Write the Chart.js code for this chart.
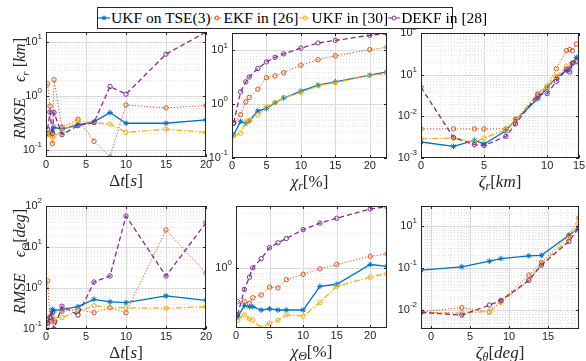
<!DOCTYPE html>
<html>
<head>
<meta charset="utf-8">
<script src="https://cdn.jsdelivr.net/npm/chart.js@4.4.0/dist/chart.umd.min.js"></script>
<style>
  body { margin: 0; width: 586px; height: 361px; overflow: hidden; position: relative; background: #fff; }
  canvas { position: absolute; }
  #legend { position: absolute; left: 97px; top: 7px; width: 356px; height: 22px; border: 1px solid #262626;
            background: #fff; z-index: 5; font-family: 'Liberation Serif', serif; font-size: 15.5px; color: #000;
            display: flex; align-items: center; justify-content: space-between; white-space: nowrap;
            padding: 0 2px 0 0; box-sizing: border-box; }
  .item { display: flex; align-items: center; }
  .item svg { margin-right: 1px; }
</style>
</head>
<body>
<div id="legend"></div>
<canvas id="c1"></canvas>
<canvas id="c2"></canvas>
<canvas id="c3"></canvas>
<canvas id="c4"></canvas>
<canvas id="c5"></canvas>
<canvas id="c6"></canvas>
<script>
const seriesNames = ['UKF on TSE(3)', 'EKF in [26]', 'UKF in [30]', 'DEKF in [28]'];

// time step sweep (both rows)
const dtSteps = [0.2, 0.5, 0.8, 1, 2, 4, 6, 8, 10, 15, 20];
const posDtUkfTse = [0.2, 0.19, 0.22, 0.26, 0.24, 0.29, 0.33, 0.49, 0.31, 0.31, 0.36];
const posDtEkf    = [1.68, 0.65, 0.13, 2.0, 0.26, 0.37, 0.143, 0.073, 0.68, 0.6, 0.66];
const posDtUkf    = [0.19, 0.2, 0.17, 0.18, 0.22, 0.34, 0.32, 0.3, 0.21, 0.24, 0.21];
const posDtDekf   = [0.24, 0.5, 0.2, 0.49, 0.19, 0.28, 0.32, 1.5, 1.08, 6.0, 15.5];

const attDtUkfTse = [0.14, 0.2, 0.3, 0.28, 0.3, 0.35, 0.53, 0.46, 0.44, 0.64, 0.5];
const attDtEkf    = [1.5, 0.18, 0.16, 0.15, 0.27, 0.3, 0.25, 0.33, 0.25, 26, 2.3];
const attDtUkf    = [0.12, 0.15, 0.2, 0.17, 0.19, 0.27, 0.37, 0.34, 0.33, 0.32, 0.35];
const attDtDekf   = [0.14, 0.19, 0.25, 0.1, 0.36, 0.22, 1.4, 1.96, 57, 1.96, 39];

// noise level sweep
const chiSteps = [0.25, 1.25, 2, 2.5, 3.75, 5, 6.25, 7.5, 10, 12.5, 15, 20, 22.5];
const posChiUkfTse = [0.27, 0.48, 0.44, 0.49, 0.75, 0.83, 1.06, 1.3, 1.74, 2.25, 2.6, 3.45, 4.0];
const posChiEkf    = [0.44, 0.64, 1.1, 1.33, 1.9, 3.1, 3.35, 3.85, 5.3, 6.7, 7.9, 10.3, 11.4];
const posChiUkf    = [0.255, 0.29, 0.47, 0.5, 0.63, 0.89, 1.07, 1.33, 1.62, 2.2, 2.5, 3.45, 3.7];
const posChiDekf   = [0.45, 1.7, 2.6, 3.2, 4.6, 6.1, 7.4, 8.6, 11, 13.7, 15.3, 19, 20.4];

const attChiUkfTse = [0.376, 0.47, 0.46, 0.46, 0.43, 0.44, 0.43, 0.43, 0.43, 0.69, 0.72, 1.07, 1.03];
const attChiEkf    = [0.51, 0.51, 0.49, 0.55, 0.58, 0.68, 0.67, 0.79, 0.88, 0.98, 1.07, 1.26, 1.32];
const attChiUkf    = [0.35, 0.39, 0.36, 0.35, 0.3, 0.33, 0.35, 0.39, 0.38, 0.5, 0.69, 0.83, 0.89];
const attChiDekf   = [0.39, 0.65, 0.83, 1.0, 1.2, 1.5, 1.65, 1.8, 2.15, 2.45, 2.7, 3.25, 3.4];

// initial error sweep (plotted on log axes, relabelled)
const zetaRSteps = [1, 3.28, 7.03, 10, 22.2, 31.6, 71.2, 100, 140, 202, 228, 251, 290];
const posZetaUkfTse = [0.00242, 0.0019, 0.00265, 0.00217, 0.0045, 0.0083, 0.0265, 0.048, 0.086, 0.125, 0.14, 0.19, 0.26];
const posZetaEkf    = [0.005, 0.005, 0.005, 0.005, 0.005, 0.0085, 0.029, 0.052, 0.139, 0.377, 0.4, 0.377, 0.545];
const posZetaUkf    = [0.0029, 0.003, 0.0024, 0.003, 0.0048, 0.008, 0.036, 0.052, 0.09, 0.16, 0.15, 0.19, 0.2];
const posZetaDekf   = [0.0497, 0.0031, 0.0021, 0.002, 0.0033, 0.0066, 0.033, 0.035, 0.069, 0.133, 0.116, 0.187, 0.21];

const zetaThSteps = [0.556, 6.17, 31.3, 62, 321, 675, 3420, 6160];
const attZetaUkfTse = [0.089, 0.107, 0.145, 0.168, 0.194, 0.2, 0.6, 0.9];
const attZetaEkf    = [0.0091, 0.0114, 0.009, 0.0164, 0.068, 0.135, 0.6, 1.55];
const attZetaUkf    = [0.0088, 0.0085, 0.0093, 0.0152, 0.051, 0.123, 0.5, 1.13];
const attZetaDekf   = [0.0088, 0.0076, 0.0131, 0.017, 0.051, 0.117, 0.43, 0.9];

// tick positions and labels ("a^b" is drawn as a with superscript b)
const dtTicks = [0, 5, 10, 15, 20];
const dtTickLabels = ['0', '5', '10', '15', '20'];
const chiTicks = [0, 5, 10, 15, 20];
const chiTickLabels = ['0', '5', '10', '15', '20'];
const zetaRTicks = [1, 10, 100, 320];
const zetaRTickLabels = ['0', '5', '10', '15'];
const zetaThTicks = [1, 10, 100, 1000];
const zetaThTickLabels = ['0', '5', '10', '15'];
const posDtYTicks = [0.1, 1, 10];
const posDtYLabels = ['10^-1', '10^0', '10^1'];
const posChiYTicks = [0.1, 1, 10];
const posChiYLabels = ['10^-1', '10^0', '10^1'];
const posZetaYTicks = [0.001, 0.01, 0.1, 1];
const posZetaYLabels = ['10^-3', '10^-2', '10^1', '10^2'];
const attDtYTicks = [0.1, 1, 10, 100];
const attDtYLabels = ['10^-1', '10^0', '10^1', '10^2'];
const attChiYTicks = [1];
const attChiYLabels = ['10^0'];
const attZetaYTicks = [0.01, 0.1, 1];
const attZetaYLabels = ['10^-2', '10^-1', '10^1'];

const COLORS = ['#0072BD', '#D95319', '#EDB120', '#7E2F8E'];
const DASHES = [[], [1.2, 1.8], [6, 2, 1.5, 2], [5, 3]];
const INK = '#262626';
const TICK_FONT = '"Liberation Sans", Arial, sans-serif';

function logMajor(min, max) {
  const out = [];
  for (let k = Math.floor(Math.log10(min)); k <= Math.ceil(Math.log10(max)); k++) {
    const v = Math.pow(10, k);
    if (v > min * 1.001 && v < max * 0.999) out.push(v);
  }
  return out;
}
function logMinor(min, max) {
  const out = [];
  for (let k = Math.floor(Math.log10(min)); k <= Math.ceil(Math.log10(max)); k++) {
    for (let m = 2; m <= 9; m++) {
      const v = m * Math.pow(10, k);
      if (v > min && v < max) out.push(v);
    }
  }
  return out;
}

// tick label with optional superscript, align 'center' or 'right', y is the vertical middle
function drawTickLabel(ctx, label, x, y, align) {
  const [base, exp] = label.split('^');
  ctx.textBaseline = 'middle';
  ctx.textAlign = 'left';
  ctx.font = '11px ' + TICK_FONT;
  const wb = ctx.measureText(base).width;
  let we = 0;
  if (exp !== undefined) { ctx.font = '8px ' + TICK_FONT; we = ctx.measureText(exp).width; }
  const w = wb + we;
  const x0 = align === 'right' ? x - w : x - w / 2;
  ctx.font = '11px ' + TICK_FONT;
  ctx.fillText(base, x0, y);
  if (exp !== undefined) {
    ctx.font = '8px ' + TICK_FONT;
    ctx.fillText(exp, x0 + wb, y - 5);
  }
}

function drawRich(ctx, segs, cx, cy, size) {
  const fontOf = st => (st === 'n' ? '' : 'italic ') + (st === 's' ? Math.round(size * 0.7) : size) + 'px "Liberation Serif"';
  let w = 0;
  segs.forEach(([t, st]) => { ctx.font = fontOf(st); w += ctx.measureText(t).width; });
  let xx = cx - w / 2;
  ctx.textAlign = 'left';
  ctx.textBaseline = 'alphabetic';
  segs.forEach(([t, st]) => {
    ctx.font = fontOf(st);
    ctx.fillText(t, xx, cy + size * 0.33 + (st === 's' ? size * 0.22 : 0));
    xx += ctx.measureText(t).width;
  });
}

// MATLAB look: dotted minor grid, solid major grid, box, inward ticks, tick labels, latex-ish titles
const matlabAxes = {
  id: 'matlabAxes',
  beforeDatasetsDraw(chart, args, o) {
    const { ctx, chartArea: a, scales: { x, y } } = chart;
    ctx.save();
    ctx.lineWidth = 1;
    const vline = v => {
      const p = Math.round(x.getPixelForValue(v)) + 0.5;
      if (p <= a.left + 1 || p >= a.right - 1) return;
      ctx.beginPath(); ctx.moveTo(p, a.top); ctx.lineTo(p, a.bottom); ctx.stroke();
    };
    const hline = v => {
      const p = Math.round(y.getPixelForValue(v)) + 0.5;
      if (p <= a.top + 1 || p >= a.bottom - 1) return;
      ctx.beginPath(); ctx.moveTo(a.left, p); ctx.lineTo(a.right, p); ctx.stroke();
    };
    ctx.strokeStyle = '#e2e2e2';
    ctx.setLineDash([1, 2]);
    (o.xMinor || []).forEach(vline);
    (o.yMinor || []).forEach(hline);
    ctx.setLineDash([]);
    ctx.strokeStyle = '#dadada';
    (o.xMajor || []).forEach(vline);
    (o.yMajor || []).forEach(hline);
    ctx.restore();
  },
  afterDraw(chart, args, o) {
    const { ctx, chartArea: a, scales: { x, y } } = chart;
    ctx.save();
    ctx.strokeStyle = INK;
    ctx.lineWidth = 1;
    ctx.setLineDash([]);
    ctx.strokeRect(a.left + 0.5, a.top + 0.5, a.right - a.left - 1, a.bottom - a.top - 1);
    ctx.beginPath();
    o.xTicks.forEach(v => {
      const p = Math.round(x.getPixelForValue(v)) + 0.5;
      ctx.moveTo(p, a.bottom); ctx.lineTo(p, a.bottom - 3);
      ctx.moveTo(p, a.top); ctx.lineTo(p, a.top + 3);
    });
    o.yTicks.forEach(v => {
      const p = Math.round(y.getPixelForValue(v)) + 0.5;
      ctx.moveTo(a.left, p); ctx.lineTo(a.left + 3, p);
      ctx.moveTo(a.right, p); ctx.lineTo(a.right - 3, p);
    });
    ctx.stroke();
    ctx.fillStyle = INK;
    o.xTicks.forEach((v, i) => drawTickLabel(ctx, o.xLabels[i], x.getPixelForValue(v), a.bottom + 8, 'center'));
    o.yTicks.forEach((v, i) => drawTickLabel(ctx, o.yLabels[i], a.left - 4, y.getPixelForValue(v), 'right'));
    drawRich(ctx, o.xTitle, (a.left + a.right) / 2, a.bottom + 23, 17);
    if (o.yTitle) {
      ctx.translate(a.left - 26, (a.top + a.bottom) / 2 - 6);
      ctx.rotate(-Math.PI / 2);
      drawRich(ctx, o.yTitle, 0, 0, 16);
    }
    ctx.restore();
  }
};

function makeDatasets(xs, seriesList) {
  return seriesList.map((vals, i) => ({
    label: seriesNames[i],
    data: xs.map((x, j) => ({ x: x, y: vals[j] })),
    borderColor: COLORS[i],
    backgroundColor: COLORS[i],
    borderWidth: i === 1 ? 1 : 1.3,
    borderDash: DASHES[i],
    pointStyle: i === 0 ? 'star' : 'circle',
    pointRadius: i === 0 ? 2.8 : 2.2,
    pointBorderWidth: 1,
    pointBorderColor: COLORS[i],
    pointBackgroundColor: i === 0 ? COLORS[i] : 'rgba(255,255,255,0)',
    order: 4 - i,
    tension: 0
  }));
}

function axis(a, dir, size) {
  return {
    type: a.type, min: a.min, max: a.max,
    afterBuildTicks: s => { s.ticks = a.ticks.map(v => ({ value: v })); },
    afterFit: s => { if (dir === 'x') s.height = size; else s.width = size; },
    grid: { display: false },
    border: { display: false },
    ticks: { display: false }
  };
}

function makePanel(id, box, yAxisW, xAx, yAx, xs, series, xTitle, yTitle) {
  const padTop = 10, padRight = 12, xAxisH = 40;
  const cv = document.getElementById(id);
  cv.width = yAxisW + box.w + padRight;
  cv.height = padTop + box.h + xAxisH;
  cv.style.left = (box.l - yAxisW) + 'px';
  cv.style.top = (box.t - padTop) + 'px';
  new Chart(cv, {
    type: 'line',
    data: { datasets: makeDatasets(xs, series) },
    options: {
      responsive: false, animation: false, devicePixelRatio: 1,
      layout: { padding: { top: padTop, right: padRight, left: 0, bottom: 0 } },
      plugins: {
        legend: { display: false },
        tooltip: { enabled: false },
        matlabAxes: {
          xTicks: xAx.ticks, yTicks: yAx.ticks, xLabels: xAx.labels, yLabels: yAx.labels,
          xMajor: xAx.major, xMinor: xAx.minor, yMajor: yAx.major, yMinor: yAx.minor,
          xTitle: xTitle, yTitle: yTitle
        }
      },
      scales: { x: axis(xAx, 'x', xAxisH), y: axis(yAx, 'y', yAxisW) }
    },
    plugins: [matlabAxes]
  });
}

const linX = (max, ticks, labels) => ({ type: 'linear', min: 0, max: max, ticks: ticks, labels: labels, major: ticks, minor: [] });
const logAx = (min, max, ticks, labels) => ({ type: 'logarithmic', min: min, max: max, ticks: ticks, labels: labels,
  major: logMajor(min, max), minor: logMinor(min, max) });

const dtTitle = [['Δ', 'n'], ['t', 'i'], ['[', 'n'], ['s', 'i'], [']', 'n']];

makePanel('c1', { l: 46, t: 32, w: 160, h: 125 }, 46,
  linX(20, dtTicks, dtTickLabels), logAx(0.073, 15.5, posDtYTicks, posDtYLabels),
  dtSteps, [posDtUkfTse, posDtEkf, posDtUkf, posDtDekf], dtTitle,
  [['RMSE', 'i'], ['    ', 'n'], ['ϵ', 'i'], ['r', 's'], [' [', 'n'], ['km', 'i'], [']', 'n']]);

makePanel('c2', { l: 232, t: 33, w: 155, h: 125 }, 30,
  linX(22.5, chiTicks, chiTickLabels), logAx(0.1, 21, posChiYTicks, posChiYLabels),
  chiSteps, [posChiUkfTse, posChiEkf, posChiUkf, posChiDekf],
  [['χ', 'i'], ['r', 's'], ['[%]', 'n']], null);

makePanel('c3', { l: 421, t: 33, w: 158, h: 125 }, 34,
  logAx(1, 320, zetaRTicks, zetaRTickLabels), logAx(0.001, 1, posZetaYTicks, posZetaYLabels),
  zetaRSteps, [posZetaUkfTse, posZetaEkf, posZetaUkf, posZetaDekf],
  [['ζ', 'i'], ['r', 's'], ['[', 'n'], ['km', 'i'], [']', 'n']], null);

makePanel('c4', { l: 46, t: 206, w: 160, h: 123 }, 46,
  linX(20, dtTicks, dtTickLabels), logAx(0.1, 100, attDtYTicks, attDtYLabels),
  dtSteps, [attDtUkfTse, attDtEkf, attDtUkf, attDtDekf], dtTitle,
  [['RMSE', 'i'], ['    ', 'n'], ['ϵ', 'i'], ['Θ', 's'], ['[', 'n'], ['deg', 'i'], [']', 'n']]);

makePanel('c5', { l: 236, t: 206, w: 151, h: 122 }, 30,
  linX(22.5, chiTicks, chiTickLabels), logAx(0.3, 3.45, attChiYTicks, attChiYLabels),
  chiSteps, [attChiUkfTse, attChiEkf, attChiUkf, attChiDekf],
  [['χ', 'i'], ['Θ', 's'], ['[%]', 'n']], null);

makePanel('c6', { l: 421, t: 206, w: 158, h: 123 }, 34,
  logAx(0.555, 6200, zetaThTicks, zetaThTickLabels), logAx(0.00355, 2.98, attZetaYTicks, attZetaYLabels),
  zetaThSteps, [attZetaUkfTse, attZetaEkf, attZetaUkf, attZetaDekf],
  [['ζ', 'i'], ['θ', 's'], ['[', 'n'], ['deg', 'i'], [']', 'n']], null);

// legend
const legend = document.getElementById('legend');
seriesNames.forEach((name, i) => {
  const item = document.createElement('span');
  item.className = 'item';
  const dash = DASHES[i].length ? ' stroke-dasharray="' + DASHES[i].join(' ') + '"' : '';
  const marker = i === 0
    ? '<path d="M3.5 5h5M6 2.5v5M4.2 3.2l3.6 3.6M7.8 3.2l-3.6 3.6" stroke="' + COLORS[i] + '" stroke-width="1"/>'
    : '<circle cx="6" cy="5" r="2" fill="none" stroke="' + COLORS[i] + '" stroke-width="1"/>';
  item.innerHTML = '<svg width="12" height="10"><line x1="0" y1="5" x2="12" y2="5" stroke="' + COLORS[i] +
    '" stroke-width="1.2"' + dash + '/>' + marker + '</svg>' + name;
  legend.appendChild(item);
});
</script>
</body>
</html>
